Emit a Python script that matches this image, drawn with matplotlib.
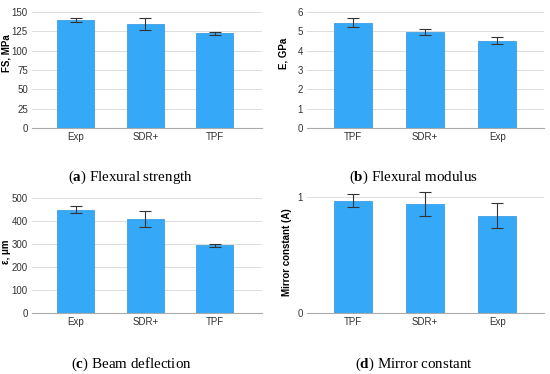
import matplotlib.pyplot as plt

plt.rcParams['font.family'] = ['Liberation Sans', 'DejaVu Sans']
plt.rcParams['mathtext.fontset'] = 'custom'
plt.rcParams['mathtext.rm'] = 'Liberation Serif'
plt.rcParams['mathtext.bf'] = 'Liberation Serif:bold'

# panel data: categories, means, lower/upper error bar ends
fs_cats = ['Exp', 'SDR+', 'TPF']
fs_mean = [139.5, 134.5, 122.5]
fs_lo = [136.5, 127.0, 120.7]
fs_hi = [142.5, 141.8, 124.6]

e_cats = ['TPF', 'SDR+', 'Exp']
e_mean = [5.45, 4.97, 4.50]
e_lo = [5.24, 4.83, 4.33]
e_hi = [5.66, 5.10, 4.71]

d_cats = ['Exp', 'SDR+', 'TPF']
d_mean = [448, 406, 293]
d_lo = [432, 373, 285]
d_hi = [464, 441, 300]

m_cats = ['TPF', 'SDR+', 'Exp']
m_mean = [0.965, 0.937, 0.839]
m_lo = [0.914, 0.839, 0.730]
m_hi = [1.023, 1.040, 0.951]

BAR = '#35a9f7'
W, H = 550, 374

fig = plt.figure(figsize=(5.5, 3.74), dpi=100)


def panel(px_left, px_right, px_top, px_bottom, cats, mean, lo, hi,
          ylim, ticks, ylabel, lab_xy, xlim, letter, caption, cap_xy):
    # axes placed in pixel coords of the 550x374 figure
    ax = fig.add_axes([px_left / W, 1 - px_bottom / H,
                       (px_right - px_left) / W, (px_bottom - px_top) / H])
    x = range(len(cats))
    yerr = [[m - l for m, l in zip(mean, lo)], [h - m for m, h in zip(mean, hi)]]
    ax.bar(x, mean, width=0.53, color=BAR, edgecolor='#2a95dd', linewidth=0.5,
           zorder=2)
    ax.errorbar(x, mean, yerr=yerr, fmt='none', ecolor='#333333',
                elinewidth=0.8, capsize=4.3, capthick=0.8, zorder=3)
    ax.set_ylim(*ylim)
    ax.set_xlim(*xlim)
    ax.set_yticks(ticks)
    ax.set_xticks(list(x))
    ax.set_xticklabels(cats)
    ax.tick_params(length=0, labelsize=7, colors='#333333', pad=3)
    ax.grid(axis='y', color='#dddddd', linewidth=0.7, zorder=0)
    for s in ['top', 'right', 'left']:
        ax.spines[s].set_visible(False)
    ax.spines['bottom'].set_color('#aaaaaa')
    ax.spines['bottom'].set_linewidth(0.8)
    ax.set_ylabel(ylabel, fontsize=7, fontweight='bold')
    ax.yaxis.set_label_coords(*lab_xy)
    fig.text(cap_xy[0] / W, 1 - cap_xy[1] / H,
             '($\\mathbf{' + letter + '}$) ' + caption,
             ha='center', va='center', fontsize=10.8, family='Liberation Serif')
    return ax


panel(32, 262, 8, 128, fs_cats, fs_mean, fs_lo, fs_hi, (0, 155),
      [0, 25, 50, 75, 100, 125, 150], 'FS, MPa', (-0.087, 0.62),
      (-0.63, 2.68), 'a', 'Flexural strength', (130.5, 177))
panel(307, 544, 8, 128, e_cats, e_mean, e_lo, e_hi, (0, 6.2),
      [0, 1, 2, 3, 4, 5, 6], 'E, GPa', (-0.08, 0.62),
      (-0.64, 2.65), 'b', 'Flexural modulus', (413.5, 177))
panel(32, 262, 193, 313, d_cats, d_mean, d_lo, d_hi, (0, 520),
      [0, 100, 200, 300, 400, 500], 'ε, μm', (-0.091, 0.51),
      (-0.63, 2.68), 'c', 'Beam deflection', (131, 364))
panel(307, 544, 191, 313, m_cats, m_mean, m_lo, m_hi, (0, 1.05),
      [0, 1], 'Mirror constant (A)', (-0.062, 0.5),
      (-0.64, 2.65), 'd', 'Mirror constant', (414, 364))

fig.savefig('out.png', dpi=100)
